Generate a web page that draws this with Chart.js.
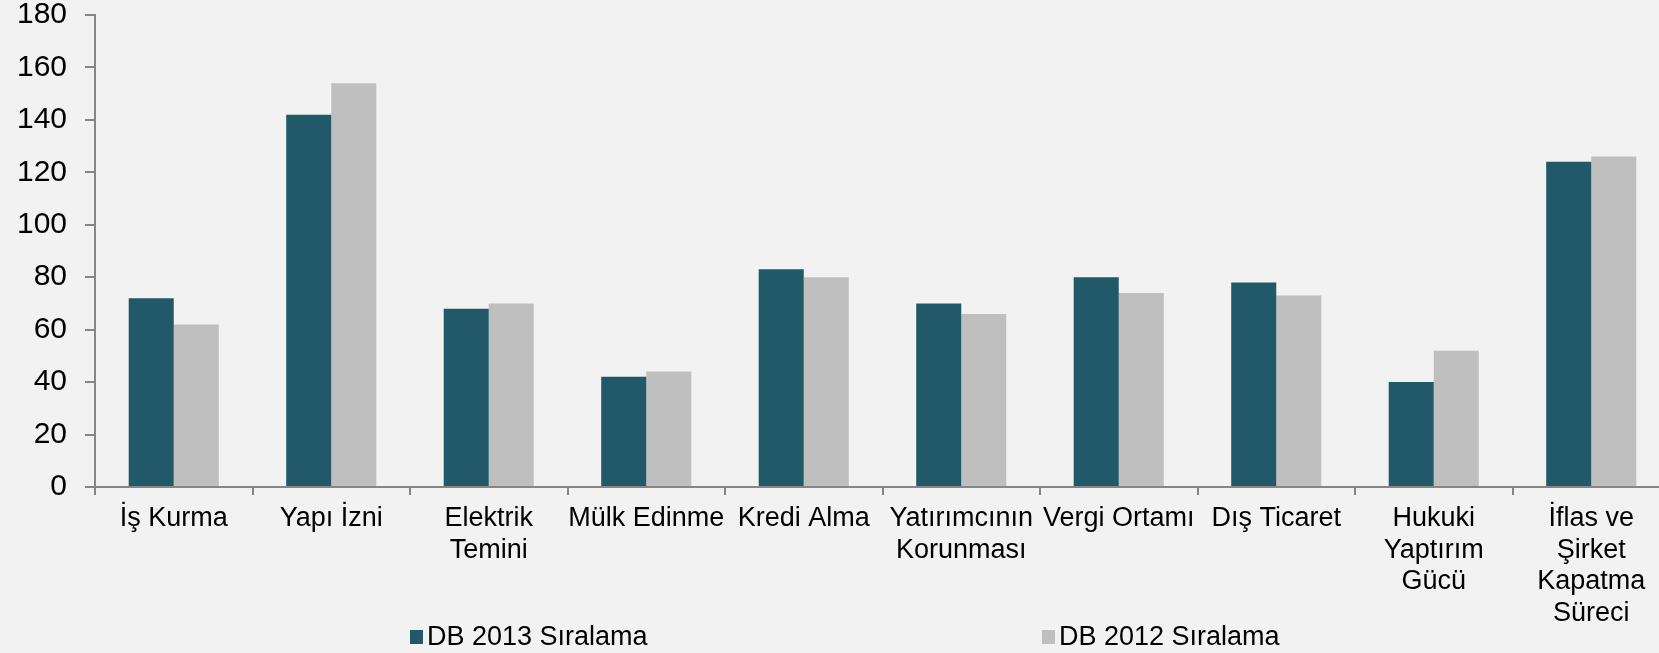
<!DOCTYPE html>
<html>
<head>
<meta charset="utf-8">
<script src="https://cdn.jsdelivr.net/npm/chart.js@4.4.1/dist/chart.umd.min.js"></script>
<style>
  html, body { margin: 0; padding: 0; background: #f2f2f2; overflow: hidden; }
  #wrap { position: relative; width: 1670px; height: 653px; }
</style>
</head>
<body>
<div id="wrap"><canvas id="dbChart"></canvas></div>
<script>
// chart data
const categories = [
  "İş Kurma", "Yapı İzni", ["Elektrik", "Temini"], "Mülk Edinme", "Kredi Alma",
  ["Yatırımcının", "Korunması"], "Vergi Ortamı", "Dış Ticaret",
  ["Hukuki", "Yaptırım", "Gücü"], ["İflas ve", "Şirket", "Kapatma", "Süreci"]
];
const seriesNames = ["DB 2013 Sıralama", "DB 2012 Sıralama"];
const db2013 = [72, 142, 68, 42, 83, 70, 80, 78, 40, 124];
const db2012 = [62, 154, 70, 44, 80, 66, 74, 73, 52, 126];
const yTicks = [0, 20, 40, 60, 80, 100, 120, 140, 160, 180];

const AXIS = "#868686";
const FONT = "'Liberation Sans', Arial, sans-serif";

// legend drawn by hand so the two items can sit far apart like the original
const bottomLegend = {
  id: "bottomLegend",
  afterDraw(chart) {
    const c = chart.ctx;
    const spots = [410, 1042];
    c.save();
    c.font = "27px " + FONT;
    c.textBaseline = "middle";
    chart.data.datasets.forEach((ds, i) => {
      const x = spots[i];
      c.fillStyle = ds.backgroundColor;
      c.fillRect(x, 630, 13, 14);
      c.fillStyle = "#000";
      c.fillText(ds.label, x + 17, 638);
    });
    c.restore();
  }
};

new Chart(document.getElementById("dbChart"), {
  type: "bar",
  data: {
    labels: categories,
    datasets: [
      { label: seriesNames[0], data: db2013, backgroundColor: "#215968" },
      { label: seriesNames[1], data: db2012, backgroundColor: "#bfbfbf" }
    ]
  },
  options: {
    responsive: true,
    maintainAspectRatio: false,
    animation: false,
    layout: { padding: { top: 15, right: 0, bottom: 0, left: 0 } },
    datasets: { bar: { categoryPercentage: 0.572, barPercentage: 1 } },
    plugins: { legend: { display: false }, tooltip: { enabled: false } },
    scales: {
      x: {
        afterFit: (s) => { s.height = 166; s.paddingLeft = 0; s.paddingRight = 0; },
        grid: { drawOnChartArea: false, offset: true, tickLength: 8, color: AXIS, lineWidth: 2 },
        border: { color: AXIS, width: 2 },
        ticks: { color: "#000", font: { family: FONT, size: 27, lineHeight: 1.17 }, padding: 8, maxRotation: 0, autoSkip: false }
      },
      y: {
        min: 0,
        max: 180,
        afterFit: (s) => { s.width = 95; s.paddingTop = 0; s.paddingBottom = 0; },
        afterBuildTicks: (s) => { s.ticks = yTicks.map((v) => ({ value: v })); },
        grid: { drawOnChartArea: false, tickLength: 10, color: AXIS, lineWidth: 2 },
        border: { color: AXIS, width: 2 },
        ticks: { color: "#000", font: { family: FONT, size: 30 }, padding: 18 }
      }
    }
  },
  plugins: [bottomLegend]
});
</script>
</body>
</html>
